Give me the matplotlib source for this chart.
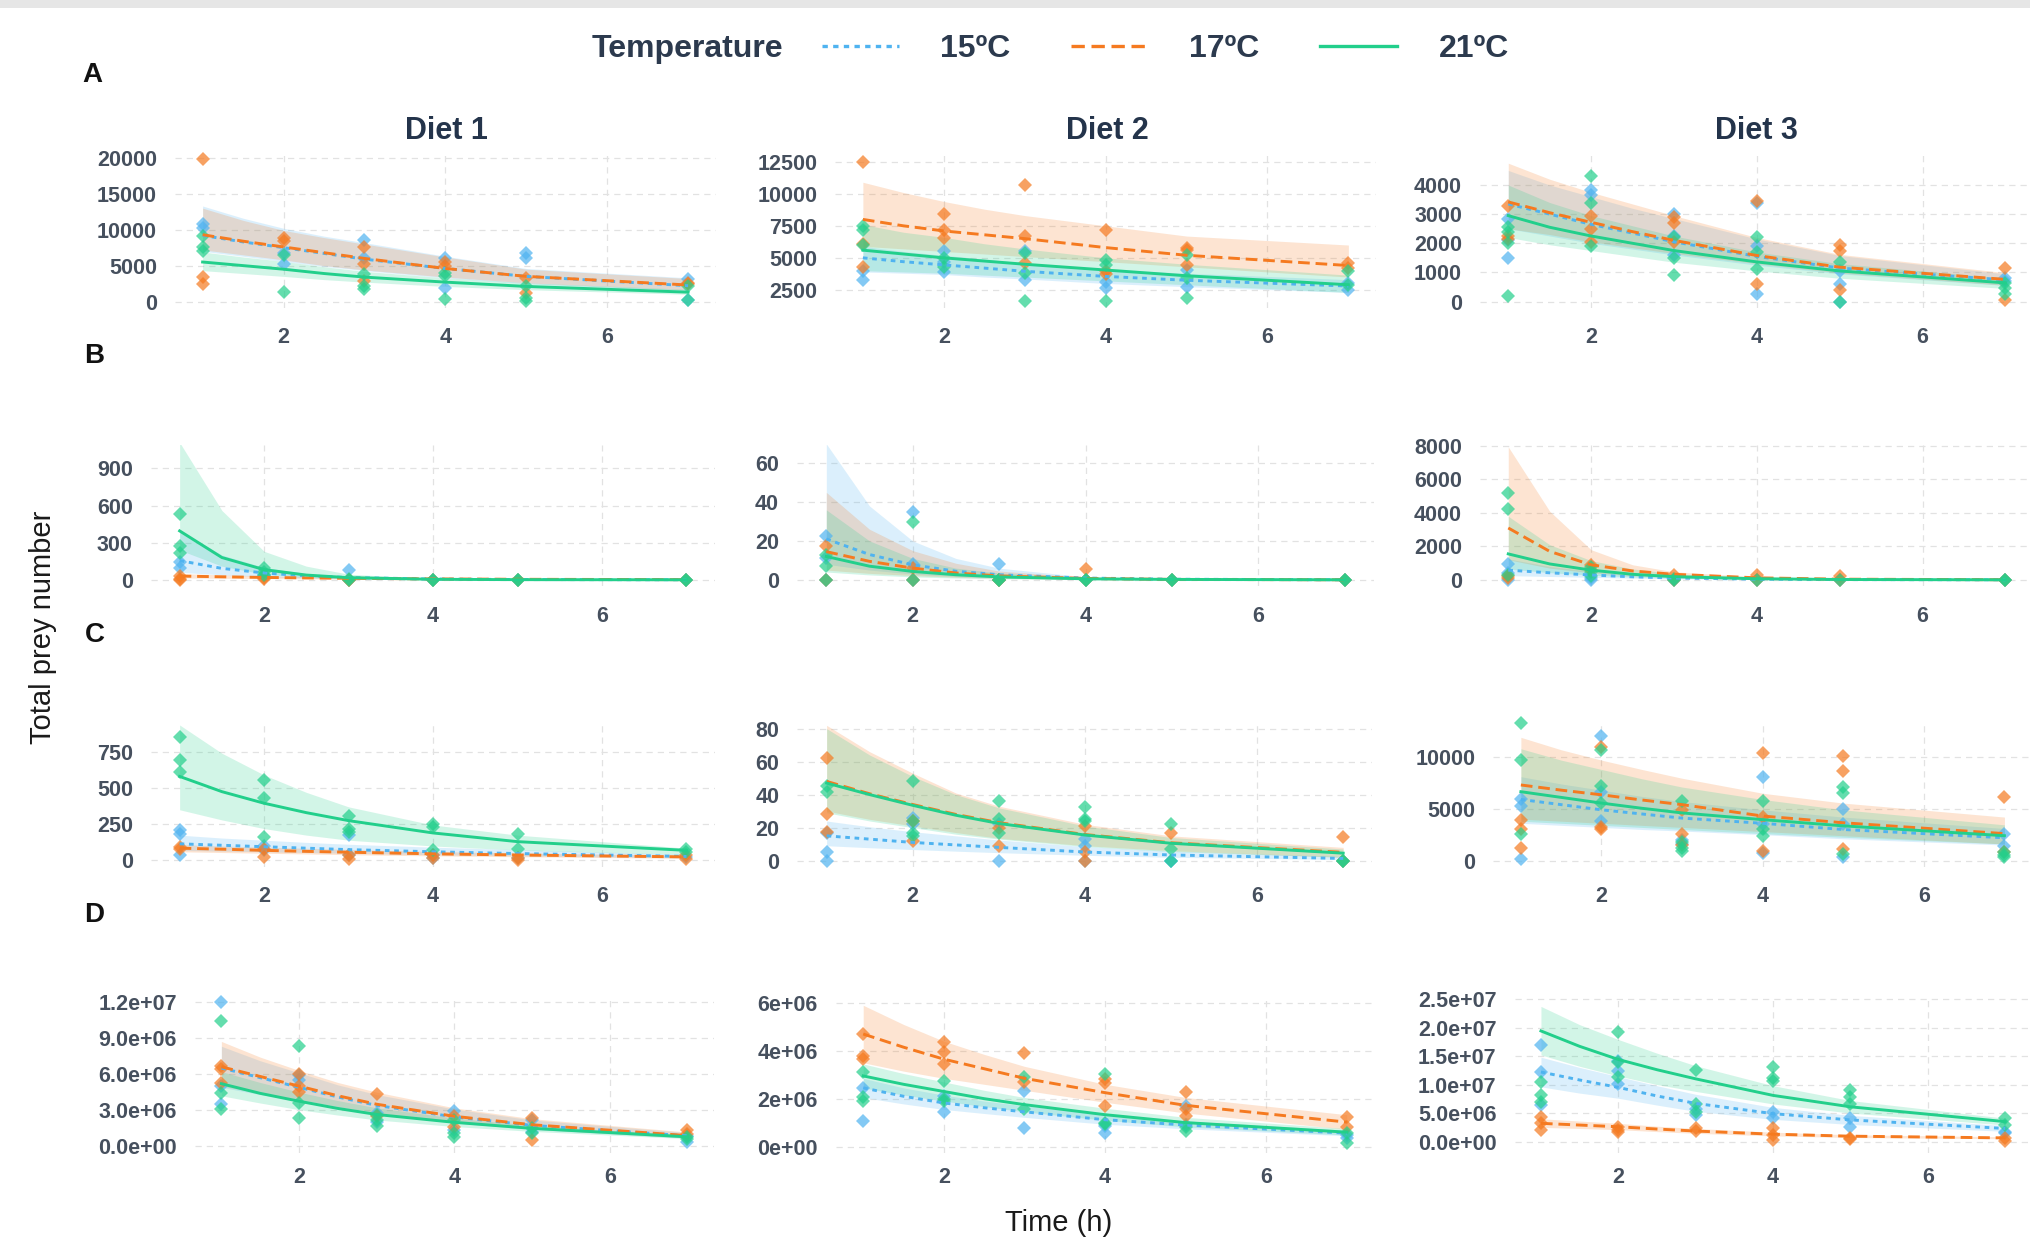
import matplotlib
matplotlib.use("Agg")
import matplotlib.pyplot as plt
from matplotlib.lines import Line2D
from matplotlib.patches import Rectangle

plt.rcParams['font.family'] = ['Liberation Sans', 'DejaVu Sans']

times = [1, 2, 3, 4, 5, 7]
fit_times = [1, 1.5, 2, 2.5, 3, 4, 5, 7]
temps = ["15", "17", "21"]
temp_labels = ["15ºC", "17ºC", "21ºC"]
diets = ["Diet 1", "Diet 2", "Diet 3"]
rows = ["A", "B", "C", "D"]

# ---------------- row A ----------------
A1_obs = {
    "15": [[10800, 10200], [6700, 5200], [8600, 6000], [6000, 1900], [6700, 6100], [3100, 250]],
    "17": [[19800, 3400, 2400], [8900, 8400], [7600, 5200, 2900], [5500, 5000], [3300, 1200], [2600, 2400]],
    "21": [[9100, 7600, 7100], [6500, 1300], [3800, 2100, 1700], [4000, 3600, 400], [2100, 500, 100], [2100, 150]],
}
A1_fit = {"15": [9200, 8300, 7500, 6700, 5900, 4600, 3500, 2200],
          "17": [9300, 8400, 7600, 6800, 6000, 4600, 3500, 2300],
          "21": [5500, 5000, 4500, 3900, 3400, 2700, 2100, 1300]}
A1_lo = {"15": [7000, 6300, 5600, 4900, 4300, 3300, 2500, 1500],
         "17": [7200, 6500, 5800, 5000, 4400, 3400, 2600, 1600],
         "21": [4300, 3900, 3500, 3050, 2700, 2100, 1650, 1000]}
A1_hi = {"15": [13300, 11600, 10200, 9100, 8200, 6300, 4600, 3300],
         "17": [13000, 11300, 9900, 8900, 8000, 6200, 4500, 3200],
         "21": [6900, 6200, 5600, 4850, 4200, 3300, 2600, 1700]}

A2_obs = {
    "15": [[3950, 3300], [5500, 4700, 3900], [5500, 3300], [3150, 2650], [4050, 2750], [3000, 2500]],
    "17": [[12450, 6100, 4300], [8450, 7200, 6550], [10700, 6700, 4600], [7200, 3950, 3700], [5750, 5600, 4450], [4600, 4200]],
    "21": [[7450, 7150, 6000], [5000, 4300], [5400, 3800, 1650], [4850, 4450, 1650], [5250, 3400, 1850], [3950, 2900]],
}
A2_fit = {"15": [5000, 4700, 4450, 4200, 3950, 3550, 3250, 2800],
          "17": [8000, 7500, 7100, 6800, 6500, 5800, 5200, 4400],
          "21": [5600, 5300, 5000, 4750, 4500, 4050, 3600, 2900]}
A2_lo = {"15": [3900, 3800, 3700, 3500, 3350, 3000, 2750, 2300],
         "17": [5900, 5700, 5500, 5300, 5100, 4700, 4300, 3500],
         "21": [4000, 3900, 3800, 3650, 3500, 3200, 2900, 2300]}
A2_hi = {"15": [5900, 5500, 5200, 4900, 4600, 4100, 3800, 3300],
         "17": [10900, 10100, 9400, 8800, 8300, 7500, 6700, 6000],
         "21": [7600, 7000, 6600, 6100, 5700, 5000, 4500, 3650]}

A3_obs = {
    "15": [[2850, 2100, 1500], [3830, 3650], [3000, 2250, 1600], [3400, 1900, 250], [1050, 600, 0], [820, 700]],
    "17": [[3270, 2250, 2150], [2950, 2500, 2050], [2900, 2700, 2050], [3450, 600], [1950, 1750, 400], [1150, 50]],
    "21": [[2550, 2400, 2000, 200], [4300, 3400, 1900], [2200, 1500, 900], [2200, 1700, 1100], [1350, 0], [650, 450, 250]],
}
A3_fit = {"15": [3350, 3000, 2650, 2350, 2050, 1550, 1150, 740],
          "17": [3420, 3050, 2720, 2400, 2100, 1580, 1180, 760],
          "21": [2950, 2550, 2250, 2000, 1750, 1360, 1050, 640]}
A3_lo = {"15": [2500, 2250, 2000, 1800, 1600, 1250, 950, 550],
         "17": [2500, 2300, 2050, 1850, 1650, 1300, 980, 560],
         "21": [2200, 1950, 1750, 1550, 1350, 1050, 800, 450]}
A3_hi = {"15": [4500, 4000, 3600, 3200, 2850, 2150, 1580, 950],
         "17": [4750, 4200, 3750, 3350, 2950, 2200, 1620, 990],
         "21": [4000, 3400, 2950, 2600, 2250, 1700, 1300, 800]}

# ---------------- row B ----------------
B1_obs = {
    "15": [[140, 95], [40, 30], [75, 0], [0], [0], [0]],
    "17": [[30, 0, 10], [15, 5], [0, 0], [0], [0], [0]],
    "21": [[530, 270, 220], [95, 65, 40], [10, 0], [0, 0], [0, 0], [0, 0]],
}
B1_fit = {"15": [155, 92, 55, 32, 18, 6, 2, 0],
          "17": [30, 24, 19, 15, 12, 7, 4, 1],
          "21": [395, 180, 82, 38, 17, 4, 1, 0]}
B1_lo = {"15": [60, 40, 25, 14, 8, 3, 1, 0],
         "17": [15, 12, 10, 8, 6, 3, 2, 0],
         "21": [240, 110, 45, 20, 8, 1, 0, 0]}
B1_hi = {"15": [400, 200, 100, 50, 25, 8, 2, 0],
         "17": [50, 40, 32, 25, 20, 12, 7, 2],
         "21": [1110, 560, 230, 110, 45, 10, 2, 0]}

B2_obs = {
    "15": [[22.5, 11, 0], [35, 8, 0], [8, 0], [0], [0], [0]],
    "17": [[17.5, 0], [6, 0], [0, 0], [5.5, 0], [0], [0]],
    "21": [[13, 7, 0], [30, 0], [0, 0], [0, 0], [0, 0], [0, 0]],
}
B2_fit = {"15": [21, 13, 7.7, 4.4, 2.6, 0.9, 0.3, 0],
          "17": [14.5, 9.5, 6, 3.5, 2, 0.7, 0.2, 0],
          "21": [12, 7, 4.3, 2.6, 1.5, 0.5, 0.2, 0]}
B2_lo = {"15": [8, 5, 3, 1.7, 1, 0.3, 0.1, 0],
         "17": [5, 3.3, 2.2, 1.3, 0.8, 0.2, 0.1, 0],
         "21": [4, 2.5, 1.5, 0.9, 0.5, 0.2, 0, 0]}
B2_hi = {"15": [70, 38, 20, 11, 6, 1.5, 0.4, 0],
         "17": [45, 26, 15, 8.5, 4.5, 1.3, 0.4, 0],
         "21": [36, 20, 11, 6, 3.5, 1, 0.3, 0]}

B3_obs = {
    "15": [[970, 390, 0], [100, 0], [0], [0], [0], [0]],
    "17": [[250, 100], [900, 580], [300, 0], [300, 0], [250, 0], [0]],
    "21": [[5200, 4260, 300], [750, 480, 200], [50, 0], [0], [0], [0, 0]],
}
B3_fit = {"15": [580, 420, 290, 180, 110, 40, 15, 2],
          "17": [3100, 1700, 900, 530, 330, 120, 40, 5],
          "21": [1550, 950, 580, 330, 190, 65, 20, 2]}
B3_lo = {"15": [250, 200, 150, 100, 60, 20, 7, 1],
         "17": [1200, 700, 420, 250, 150, 50, 15, 1],
         "21": [650, 430, 280, 170, 100, 35, 10, 1]}
B3_hi = {"15": [1250, 800, 520, 330, 200, 75, 28, 3],
         "17": [7950, 4100, 1800, 900, 480, 180, 60, 8],
         "21": [3800, 2100, 1150, 650, 370, 120, 40, 4]}

# ---------------- row C ----------------
C1_obs = {
    "15": [[210, 185, 35], [100, 70], [175, 40], [15, 40], [20], [25]],
    "17": [[92, 81], [80, 25], [35, 10], [40, 20], [15, 5], [35, 12]],
    "21": [[850, 693, 612], [555, 430, 160], [310, 220, 200], [255, 230, 70], [185, 80], [80, 60]],
}
C1_fit = {"15": [115, 105, 95, 85, 75, 60, 48, 28],
          "17": [85, 78, 70, 63, 57, 46, 38, 25],
          "21": [580, 475, 395, 330, 275, 190, 130, 70]}
C1_lo = {"15": [70, 65, 60, 55, 50, 40, 32, 18],
         "17": [60, 55, 50, 45, 40, 32, 26, 15],
         "21": [350, 280, 220, 175, 140, 100, 72, 40]}
C1_hi = {"15": [175, 155, 140, 125, 112, 92, 75, 42],
         "17": [110, 100, 92, 84, 76, 62, 52, 35],
         "21": [935, 740, 590, 470, 370, 245, 175, 85]}

C2_obs = {
    "15": [[17, 5, 0], [26, 22], [22, 0], [13, 9, 0], [0, 0], [0]],
    "17": [[62, 28, 17.5], [24, 12], [20, 9], [21, 5, 0], [17], [14, 0]],
    "21": [[45, 41.5], [48, 24, 17, 15], [36, 25, 17], [32.5, 25, 24], [22, 7, 0], [0, 0]],
}
C2_fit = {"15": [15, 13, 11, 9.5, 8, 5.2, 3.4, 1.3],
          "17": [48, 40.5, 34, 28, 23, 15.8, 10.8, 5],
          "21": [47, 40, 33.5, 27.5, 22.5, 15.5, 10.5, 4.5]}
C2_lo = {"15": [9, 7.8, 6.7, 5.7, 4.8, 3.2, 2, 0.6],
         "17": [30, 25, 21, 17, 13.5, 9, 6, 2],
         "21": [29, 24, 20, 16, 13, 8.5, 5.5, 2]}
C2_hi = {"15": [24, 20.5, 17.5, 15, 12.5, 8.5, 5.8, 2.5],
         "17": [82, 66, 53, 41, 33, 22, 15, 8],
         "21": [80, 64, 51, 40, 32, 21, 14, 7]}

C3_obs = {
    "15": [[5950, 5250, 150], [12050, 6650, 3800], [1950, 1600], [8050, 3550, 750], [5000, 3500, 300], [2600, 1450]],
    "17": [[3870, 3000, 1250], [10950, 3250, 3000], [4900, 2550, 1550], [10400, 4200, 950], [10100, 8650, 1100], [6100, 800]],
    "21": [[13300, 9700, 2600], [10650, 7200, 5550], [5800, 1750, 1250, 950], [5800, 3000, 2400], [7150, 6550, 650], [500, 300, 800]],
}
C3_fit = {"15": [5900, 5400, 4900, 4500, 4100, 3600, 3000, 2200],
          "17": [7300, 6800, 6350, 5850, 5400, 4300, 3650, 2600],
          "21": [6650, 6100, 5550, 5050, 4600, 3950, 3350, 2400]}
C3_lo = {"15": [3600, 3400, 3200, 3000, 2850, 2500, 2100, 1500],
         "17": [4000, 3800, 3600, 3400, 3200, 2800, 2400, 1600],
         "21": [3800, 3600, 3400, 3200, 3000, 2600, 2250, 1600]}
C3_hi = {"15": [8100, 7400, 6800, 6200, 5700, 4900, 4200, 3100],
         "17": [11900, 10700, 9700, 8800, 7950, 6500, 5550, 4200],
         "21": [10800, 9700, 8800, 7900, 7100, 5900, 4900, 3450]}

# ---------------- row D (values in millions) ----------------
D1_obs = {
    "15": [[12.0, 5.05, 3.5], [5.9, 5.5], [2.8, 2.05], [2.9, 1.35], [2.2, 1.2], [0.9, 0.4]],
    "17": [[6.65, 6.45, 5.25], [6.0, 5.0, 4.5], [4.35, 2.5], [2.5, 1.65], [2.35, 0.5], [1.35, 1.05]],
    "21": [[10.4, 4.4, 3.1], [8.3, 3.6, 2.35], [2.6, 2.2, 1.7], [2.2, 1.1, 0.8], [1.5, 1.1], [0.8, 0.6]],
}
D1_fit = {"15": [6.5, 5.7, 4.9, 4.1, 3.4, 2.45, 1.75, 0.88],
          "17": [6.6, 5.8, 5.0, 4.2, 3.5, 2.5, 1.8, 0.9],
          "21": [5.2, 4.4, 3.75, 3.15, 2.65, 2.0, 1.5, 0.8]}
D1_lo = {"15": [4.9, 4.3, 3.8, 3.2, 2.7, 1.95, 1.4, 0.7],
         "17": [5.0, 4.4, 3.9, 3.3, 2.8, 2.0, 1.45, 0.7],
         "21": [4.2, 3.6, 3.05, 2.6, 2.2, 1.65, 1.25, 0.65]}
D1_hi = {"15": [8.3, 7.1, 6.1, 5.1, 4.3, 3.1, 2.2, 1.15],
         "17": [8.7, 7.4, 6.3, 5.3, 4.5, 3.2, 2.3, 1.2],
         "21": [6.2, 5.3, 4.5, 3.8, 3.2, 2.35, 1.75, 0.95]}

D2_obs = {
    "15": [[2.45, 1.05], [2.1, 1.45], [2.3, 0.77], [0.85, 0.55], [1.7, 0.9], [0.5, 0.35]],
    "17": [[4.7, 3.8, 3.65], [4.38, 3.93, 3.44], [3.9, 2.7], [2.83, 2.64, 1.68], [2.27, 1.55, 1.26], [1.25, 0.8]],
    "21": [[3.1, 1.9, 2.05], [2.73, 1.9, 2.0], [2.9, 1.55], [3.02, 1.0, 0.95], [0.8, 0.65], [0.55, 0.15]],
}
D2_fit = {"15": [2.45, 2.1, 1.82, 1.62, 1.45, 1.12, 0.9, 0.56],
          "17": [4.7, 4.15, 3.65, 3.25, 2.85, 2.25, 1.72, 1.02],
          "21": [2.95, 2.6, 2.3, 2.0, 1.75, 1.33, 1.0, 0.6]}
D2_lo = {"15": [2.05, 1.78, 1.55, 1.38, 1.22, 0.93, 0.74, 0.45],
         "17": [3.5, 3.15, 2.85, 2.6, 2.35, 1.85, 1.4, 0.72],
         "21": [2.45, 2.15, 1.9, 1.67, 1.45, 1.1, 0.82, 0.48]}
D2_hi = {"15": [2.85, 2.45, 2.15, 1.9, 1.7, 1.33, 1.07, 0.68],
         "17": [5.9, 5.1, 4.4, 3.85, 3.35, 2.6, 2.05, 1.33],
         "21": [3.45, 3.05, 2.7, 2.35, 2.05, 1.6, 1.22, 0.75]}

D3_obs = {
    "15": [[16.9, 12.15, 6.4], [14.2, 12.4, 10.1], [5.8, 4.6], [5.2, 4.05], [4.05, 2.6], [1.75, 1.5]],
    "17": [[4.3, 3.2, 2.0], [2.6, 1.75, 2.0], [2.3, 1.85], [2.3, 1.15, 0.3], [0.58, 0.46], [0.58, 0.1]],
    "21": [[10.4, 8.1, 6.9], [19.2, 13.9, 11.3], [12.6, 6.65, 5.2], [13.0, 11.1, 10.7], [9.0, 7.8, 6.65], [4.05, 2.9]],
}
D3_fit = {"15": [12.2, 10.8, 9.5, 8.0, 6.7, 4.9, 3.8, 2.3],
          "17": [3.2, 2.9, 2.6, 2.2, 1.85, 1.3, 0.95, 0.65],
          "21": [19.4, 16.7, 14.4, 12.6, 11.0, 8.1, 6.1, 3.5]}
D3_lo = {"15": [9.6, 8.5, 7.6, 6.4, 5.3, 3.9, 3.0, 1.8],
         "17": [2.5, 2.3, 2.1, 1.75, 1.45, 1.0, 0.72, 0.5],
         "21": [15.2, 13.2, 11.5, 10.0, 8.8, 6.6, 5.0, 2.9]}
D3_hi = {"15": [14.8, 13.0, 11.4, 9.8, 8.3, 6.0, 4.6, 2.8],
         "17": [4.0, 3.6, 3.2, 2.7, 2.3, 1.65, 1.2, 0.85],
         "21": [23.7, 20.5, 17.9, 15.5, 13.3, 9.8, 7.2, 4.1]}

# y ticks shown on each panel
yticks = {
    "A1": [0, 5000, 10000, 15000, 20000], "A2": [2500, 5000, 7500, 10000, 12500], "A3": [0, 1000, 2000, 3000, 4000],
    "B1": [0, 300, 600, 900], "B2": [0, 20, 40, 60], "B3": [0, 2000, 4000, 6000, 8000],
    "C1": [0, 250, 500, 750], "C2": [0, 20, 40, 60, 80], "C3": [0, 5000, 10000],
    "D1": [0, 3e6, 6e6, 9e6, 1.2e7], "D2": [0, 2e6, 4e6, 6e6], "D3": [0, 5e6, 1e7, 1.5e7, 2e7, 2.5e7],
}
ytick_labels = {
    "D1": ["0.0e+00", "3.0e+06", "6.0e+06", "9.0e+06", "1.2e+07"],
    "D2": ["0e+00", "2e+06", "4e+06", "6e+06"],
    "D3": ["0.0e+00", "5.0e+06", "1.0e+07", "1.5e+07", "2.0e+07", "2.5e+07"],
}
row_scale = {"A": 1, "B": 1, "C": 1, "D": 1e6}

panels = {
    "A1": (A1_obs, A1_fit, A1_lo, A1_hi), "A2": (A2_obs, A2_fit, A2_lo, A2_hi), "A3": (A3_obs, A3_fit, A3_lo, A3_hi),
    "B1": (B1_obs, B1_fit, B1_lo, B1_hi), "B2": (B2_obs, B2_fit, B2_lo, B2_hi), "B3": (B3_obs, B3_fit, B3_lo, B3_hi),
    "C1": (C1_obs, C1_fit, C1_lo, C1_hi), "C2": (C2_obs, C2_fit, C2_lo, C2_hi), "C3": (C3_obs, C3_fit, C3_lo, C3_hi),
    "D1": (D1_obs, D1_fit, D1_lo, D1_hi), "D2": (D2_obs, D2_fit, D2_lo, D2_hi), "D3": (D3_obs, D3_fit, D3_lo, D3_hi),
}

# ---- layout (measured on a 1568x959 preview of the figure) ----
W, H = 1568.0, 959.0
xtick_px = {  # pixel x of the "2" and "6" ticks in each panel
    "A": [(219, 469), (729, 979), (1229, 1485)],
    "B": [(204, 465), (705, 972), (1229, 1485)],
    "C": [(204, 465), (705, 971), (1237, 1486)],
    "D": [(231, 471), (729, 978), (1250, 1489)],
}
row_box = {"A": (120, 238), "B": (344, 453), "C": (560, 670), "D": (770, 891)}
ylims = {
    "A1": (-900, 20360), "A2": (1086, 13005), "A3": (-222, 5022),
    "B1": (-52, 1088), "B2": (-3.3, 69.3), "B3": (-381, 8050),
    "C1": (-45, 937), "C2": (-3.9, 82.4), "C3": (-625, 13125),
    "D1": (-0.54e6, 12.43e6), "D2": (-0.27e6, 6.27e6), "D3": (-2.0e6, 25.45e6),
}
xlim = (0.66, 7.34)

colors = {"15": "#4fb3f0", "17": "#f57a20", "21": "#22cf8b"}
styles = {"15": (0, (1.6, 1.6)), "17": (0, (4.0, 2.0)), "21": "-"}
tick_color = "#46505e"


def fx(x):
    return x / W


def fy(y):
    return 1 - y / H


fig = plt.figure(figsize=(20.30, 12.41), dpi=100)
fig.patch.set_facecolor("white")
fig.add_artist(Rectangle((0, fy(6)), 1, 6 / H, transform=fig.transFigure,
                         facecolor="#e6e6e6", edgecolor="none", zorder=0))

for r in rows:
    for j in range(3):
        key = f"{r}{j + 1}"
        obs, fit, lo, hi = panels[key]
        k = row_scale[r]
        px2, px6 = xtick_px[r][j]
        u = (px6 - px2) / 4.0
        left = px2 - 1.34 * u
        top, bot = row_box[r]
        ax = fig.add_axes([fx(left), fy(bot), 6.68 * u / W, (bot - top) / H])
        ax.set_xlim(*xlim)
        ax.set_ylim(*ylims[key])

        for t in temps:
            ax.fill_between(fit_times, [v * k for v in lo[t]], [v * k for v in hi[t]],
                            color=colors[t], alpha=0.2, lw=0, zorder=2)
        for t in temps:
            xs, ys = [], []
            for tm, vals in zip(times, obs[t]):
                for v in vals:
                    xs.append(tm)
                    ys.append(v * k)
            ax.plot(xs, ys, ls="none", marker="D", ms=7.5, mew=0, color=colors[t],
                    alpha=0.7, zorder=3, clip_on=False)
        for t in temps:
            ax.plot(fit_times, [v * k for v in fit[t]], color=colors[t], ls=styles[t],
                    lw=2.1, zorder=4)

        ax.set_xticks([2, 4, 6])
        ax.set_yticks(yticks[key])
        if key in ytick_labels:
            ax.set_yticklabels(ytick_labels[key])
        else:
            ax.set_yticklabels([f"{int(v)}" for v in yticks[key]])
        ax.tick_params(length=0, labelsize=15.5, labelcolor=tick_color)
        ax.tick_params(axis="y", pad=13)
        ax.tick_params(axis="x", pad=14 if r != "D" else 10)
        for lab in ax.get_xticklabels() + ax.get_yticklabels():
            lab.set_fontweight("bold")
        ax.grid(True, color="#e2e2e2", lw=0.9, ls=(0, (5, 4)))
        ax.set_axisbelow(True)
        for s in ax.spines.values():
            s.set_visible(False)
        ax.set_facecolor("none")

# facet titles
for j, (d, xc) in enumerate(zip(diets, [345, 855, 1357])):
    fig.text(fx(xc), fy(101), d, ha="center", va="center", fontsize=22,
             fontweight="bold", color="#24344b")

# row letters
for r, (xc, yc) in zip(rows, [(71, 58), (73, 275), (73, 491), (73, 707)]):
    fig.text(fx(xc), fy(yc), r, ha="center", va="center", fontsize=20,
             fontweight="bold", color="#111111")

fig.text(fx(33), fy(485), "Total prey number", rotation=90, ha="center", va="center",
         fontsize=21, color="#1a1a1a")
fig.text(fx(818), fy(956), "Time (h)", ha="center", va="bottom", fontsize=21, color="#1a1a1a")

# legend
fig.text(fx(605), fy(38), "Temperature", ha="right", va="center", fontsize=23,
         fontweight="bold", color="#2c3a4e")
handles = [Line2D([0], [0], color=colors[t], ls=styles[t], lw=2.4) for t in temps]
leg = fig.legend(handles, temp_labels, loc="center left", bbox_to_anchor=(fx(635), fy(38)),
                 ncol=3, frameon=False, fontsize=23, handlelength=2.4, handletextpad=1.3,
                 columnspacing=1.9, borderpad=0, borderaxespad=0)
for txt in leg.get_texts():
    txt.set_fontweight("bold")
    txt.set_color("#2c3a4e")

fig.savefig("out.png", dpi=100, facecolor="white")
